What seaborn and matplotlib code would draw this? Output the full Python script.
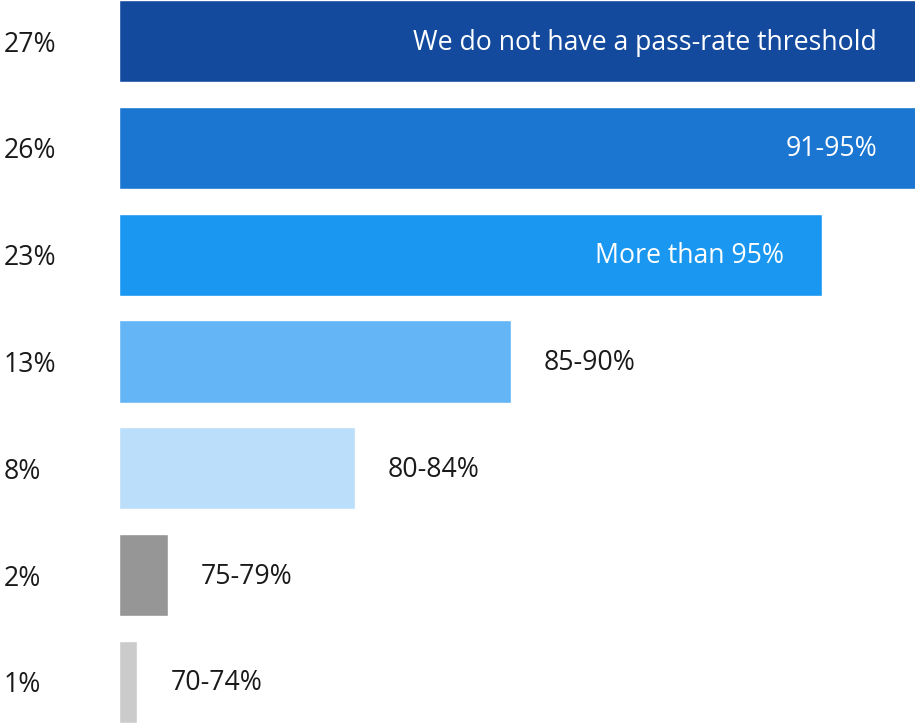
import matplotlib
matplotlib.use("Agg")
import matplotlib.pyplot as plt
import seaborn as sns
import pandas as pd

# Data
categories = ["We do not have a pass-rate threshold", "91-95%", "More than 95%",
              "85-90%", "80-84%", "75-79%", "70-74%"]
values = [27.0, 26.4, 23.05, 12.85, 7.74, 1.6, 0.6]
pct_labels = ["27%", "26%", "23%", "13%", "8%", "2%", "1%"]
colors = ["#134A9E", "#1B76D2", "#1A97F0", "#64B5F6", "#BBDEFB", "#969696", "#CBCBCB"]
inside = [True, True, True, False, False, False, False]

sns.set_theme(style="white")
plt.rcParams["font.family"] = ["Open Sans", "DejaVu Sans"]

DPI = 100
W, H = 915, 728
FS = 19.2
fig = plt.figure(figsize=(W / DPI, H / DPI), dpi=DPI)
ax = fig.add_axes([119 / W, (H - 723) / H, (W - 119) / W, 723 / H])

df = pd.DataFrame({"cat": categories, "val": values})
sns.barplot(data=df, y="cat", x="val", hue="cat", palette=colors, orient="h",
            width=0.77, legend=False, ax=ax, saturation=1)

xmax = 26.1
ax.set_xlim(0, xmax)
ax.set_ylim(6.385, -0.385)
for s in ax.spines.values():
    s.set_visible(False)
ax.set_xticks([])
ax.set_xlabel("")
ax.set_ylabel("")
ax.set_yticks(range(len(categories)))
ax.set_yticklabels(pct_labels, ha="left", fontsize=FS, color="#1a1a1a")
ax.tick_params(axis="y", length=0, pad=(119 - 4) * 72 / DPI)

px = 72 / DPI
dy = -1.5 * px
for i, (c, v, ins) in enumerate(zip(categories, values, inside)):
    end = min(v, xmax)
    if ins:
        ax.annotate(c, (end, i), xytext=(-38 * px, dy), textcoords="offset points",
                    ha="right", va="center", color="white", fontsize=FS)
    else:
        ax.annotate(c, (end, i), xytext=(33 * px, dy), textcoords="offset points",
                    ha="left", va="center", color="#1a1a1a", fontsize=FS)

fig.savefig("out.png", dpi=DPI)
